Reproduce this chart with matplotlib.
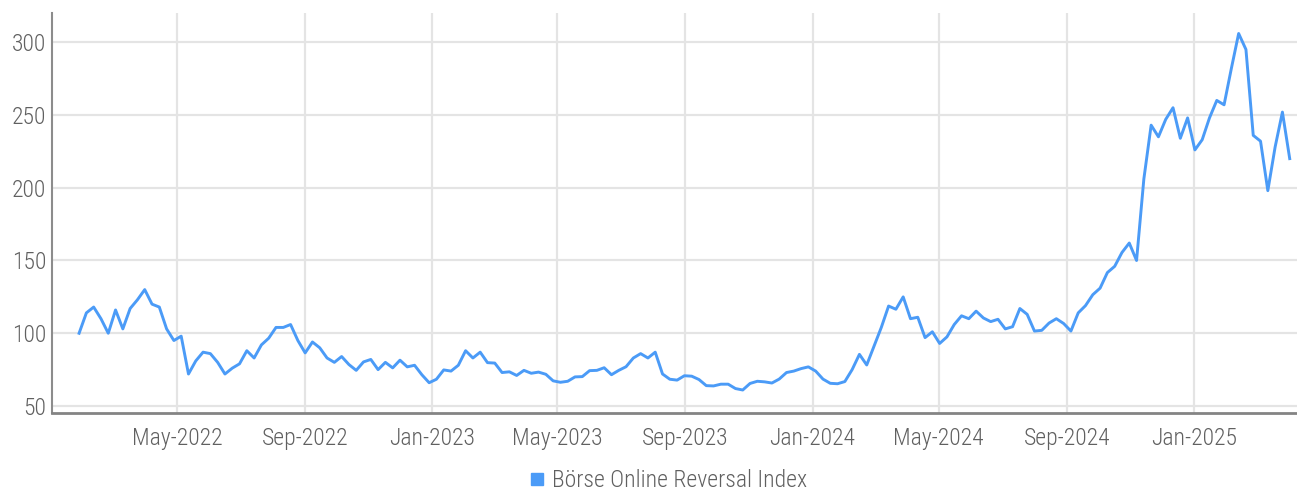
import matplotlib
matplotlib.use("Agg")
import matplotlib.pyplot as plt
from matplotlib import font_manager as fm
from matplotlib.lines import Line2D
import pandas as pd

# ---------------- data ----------------
series_name = "Börse Online Reversal Index"
start_date = "2022-01-27"
index_values = [
    100, 114, 118, 110, 100, 116, 103, 117, 123, 130,
    120, 118, 103, 95, 98, 72, 81, 87, 86, 80,
    72, 76, 79, 88, 83, 92, 96.6, 104, 104, 106,
    95, 86.5, 94, 90, 83, 80, 84, 78.5, 74.5, 80.3,
    82, 75, 80, 76.2, 81.5, 76.9, 78, 71.5, 66, 68.4,
    74.8, 74, 78, 88, 83, 87, 79.8, 79.5, 73, 73.5,
    71, 74.5, 72.5, 73.3, 71.8, 67.3, 66.3, 67, 70, 70.2,
    74.3, 74.5, 76.3, 71.5, 74.5, 77, 83, 86, 83, 87,
    72, 68.4, 67.8, 70.8, 70.5, 68.2, 64, 63.8, 65, 65,
    62, 61, 65.5, 67, 66.6, 65.8, 68.5, 73, 74, 75.7,
    76.9, 74, 68.5, 65.6, 65.3, 66.8, 75, 85.5, 78.2, 91,
    104, 118.7, 116.5, 125, 110, 111, 97, 101, 93, 97.5,
    106, 112, 110, 115.2, 110.5, 108, 109.6, 103, 104.5, 117,
    113, 101.5, 102, 107, 110, 106.7, 101.5, 114, 119, 126.5,
    131, 141.7, 146, 155.5, 162, 150, 206, 243, 235, 247,
    255, 234, 248, 226, 233, 248, 260, 257, 282, 306,
    295, 236, 232, 198, 228, 252, 220,
]
tick_dates = ["2022-05-01", "2022-09-01", "2023-01-01", "2023-05-01", "2023-09-01",
              "2024-01-01", "2024-05-01", "2024-09-01", "2025-01-01"]
tick_labels = ["May-2022", "Sep-2022", "Jan-2023", "May-2023", "Sep-2023",
               "Jan-2024", "May-2024", "Sep-2024", "Jan-2025"]
y_ticks = [50, 100, 150, 200, 250, 300]

dates = pd.date_range(start_date, periods=len(index_values), freq="W-THU")

# ---------------- font ----------------
names = {f.name for f in fm.fontManager.ttflist}
if "Roboto Condensed" in names:
    font_kw = {"family": "Roboto Condensed", "weight": "light"}
    fsize = 17
elif "Liberation Sans Narrow" in names:
    font_kw = {"family": "Liberation Sans Narrow"}
    fsize = 17
else:
    font_kw = {"family": "DejaVu Sans"}
    fsize = 13.5
fp = fm.FontProperties(size=fsize, **font_kw)

text_color = "#606060"
line_color = "#4b9bf7"
grid_color = "#e4e4e4"

# ---------------- figure ----------------
fig = plt.figure(figsize=(12.97, 4.94), dpi=100)
ax = fig.add_axes([52 / 1297, 81.3 / 494, 1 - 52 / 1297, (412.7 - 12.7) / 494])

ax.plot(dates, index_values, color=line_color, linewidth=2.1, solid_joinstyle="round", zorder=3)

ax.set_xlim(pd.Timestamp("2022-01-01"), pd.Timestamp("2025-04-10"))
ax.set_ylim(45.4, 320.3)

ax.set_yticks(y_ticks)
ax.set_xticks(pd.to_datetime(tick_dates))
ax.set_xticklabels(tick_labels)

ax.grid(True, color=grid_color, linewidth=1.6, zorder=0)
ax.set_axisbelow(True)

for s in ["top", "right"]:
    ax.spines[s].set_visible(False)
ax.spines["left"].set_color("#8c8c8c")
ax.spines["left"].set_linewidth(1.5)
ax.spines["bottom"].set_color("#848484")
ax.spines["bottom"].set_linewidth(2.0)

ax.tick_params(axis="both", length=0, colors=text_color)
ax.tick_params(axis="x", pad=10)
ax.tick_params(axis="y", pad=4)
for lab in ax.get_xticklabels() + ax.get_yticklabels():
    lab.set_fontproperties(fp)
    lab.set_color(text_color)

handle = Line2D([], [], linestyle="none", marker="s", markersize=8.5,
                markerfacecolor=line_color, markeredgecolor=line_color)
leg = fig.legend([handle], [series_name], loc="center", bbox_to_anchor=(0.515, 0.027),
                 frameon=False, prop=fp, handlelength=0.7, handletextpad=0.3,
                 borderpad=0.0)
for t in leg.get_texts():
    t.set_color(text_color)

fig.savefig("out.png", dpi=100)
